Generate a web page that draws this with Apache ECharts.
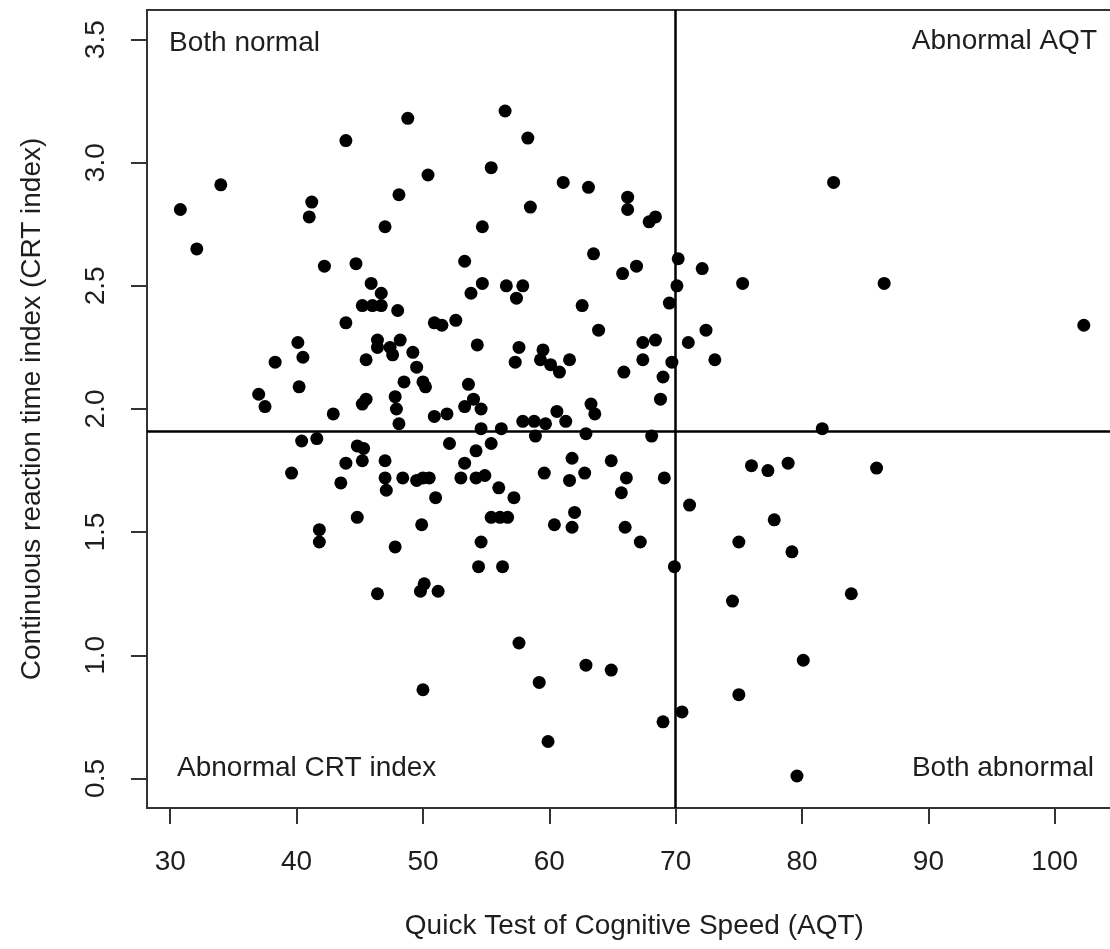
<!DOCTYPE html>
<html>
<head>
<meta charset="utf-8">
<script src="https://cdn.jsdelivr.net/npm/echarts@6/dist/echarts.min.js"></script>
<style>
html,body{margin:0;padding:0;background:#fff;}
#chart{width:1110px;height:949px;}
</style>
</head>
<body>
<div id="chart"></div>
<script>
// Quick Test of Cognitive Speed (AQT) values
const aqt = [
48.8,43.9,50.4,34.0,30.8,48.1,41.2,41.0,47.0,32.1,
42.2,44.7,45.9,46.7,45.2,46.0,46.7,48.0,43.9,50.9,
40.1,40.5,38.3,45.5,46.4,46.4,47.4,47.6,48.2,49.2,
49.5,48.5,50.0,50.2,40.2,37.0,37.5,45.2,45.5,47.8,
47.9,48.1,42.9,50.9,51.9,53.6,56.5,58.3,55.4,61.1,
63.1,66.2,66.2,58.5,67.9,68.4,54.7,63.5,53.3,70.2,
72.1,65.8,66.9,54.7,53.8,56.6,57.9,57.4,70.1,69.5,
62.6,51.5,52.6,63.9,72.4,54.3,57.6,57.3,59.5,59.3,
60.1,60.8,61.6,67.4,68.4,71.0,67.4,69.7,73.1,65.9,
69.0,68.8,54.0,53.3,54.6,63.3,63.6,57.9,58.8,59.7,
60.6,61.3,54.6,56.2,62.9,68.1,58.9,82.5,75.3,86.5,
102.3,81.6,76.0,77.3,78.9,85.9,71.1,77.8,75.0,79.2,
83.9,74.5,80.1,75.0,79.6,40.4,41.6,44.8,45.3,43.9,
45.2,39.6,43.5,47.0,47.0,47.1,48.4,49.5,50.0,50.5,
51.0,44.8,49.9,41.8,41.8,47.8,46.4,49.8,50.1,51.2,
50.0,52.1,54.2,55.4,53.3,53.0,54.2,54.9,56.0,57.2,
55.4,56.1,56.7,54.6,54.4,56.3,59.6,61.8,61.6,62.8,
64.9,66.1,65.7,69.1,62.0,61.8,60.4,66.0,67.2,69.9,
57.6,62.9,64.9,59.2,69.0,70.5,59.9
];
// Continuous reaction time index (CRT index) values
const crt = [
3.18,3.09,2.95,2.91,2.81,2.87,2.84,2.78,2.74,2.65,
2.58,2.59,2.51,2.47,2.42,2.42,2.42,2.40,2.35,2.35,
2.27,2.21,2.19,2.20,2.28,2.25,2.25,2.22,2.28,2.23,
2.17,2.11,2.11,2.09,2.09,2.06,2.01,2.02,2.04,2.05,
2.00,1.94,1.98,1.97,1.98,2.10,3.21,3.10,2.98,2.92,
2.90,2.86,2.81,2.82,2.76,2.78,2.74,2.63,2.60,2.61,
2.57,2.55,2.58,2.51,2.47,2.50,2.50,2.45,2.50,2.43,
2.42,2.34,2.36,2.32,2.32,2.26,2.25,2.19,2.24,2.20,
2.18,2.15,2.20,2.27,2.28,2.27,2.20,2.19,2.20,2.15,
2.13,2.04,2.04,2.01,2.00,2.02,1.98,1.95,1.95,1.94,
1.99,1.95,1.92,1.92,1.90,1.89,1.89,2.92,2.51,2.51,
2.34,1.92,1.77,1.75,1.78,1.76,1.61,1.55,1.46,1.42,
1.25,1.22,0.98,0.84,0.51,1.87,1.88,1.85,1.84,1.78,
1.79,1.74,1.70,1.79,1.72,1.67,1.72,1.71,1.72,1.72,
1.64,1.56,1.53,1.51,1.46,1.44,1.25,1.26,1.29,1.26,
0.86,1.86,1.83,1.86,1.78,1.72,1.72,1.73,1.68,1.64,
1.56,1.56,1.56,1.46,1.36,1.36,1.74,1.80,1.71,1.74,
1.79,1.72,1.66,1.72,1.58,1.52,1.53,1.52,1.46,1.36,
1.05,0.96,0.94,0.89,0.73,0.77,0.65
];
const xTicks = [30,40,50,60,70,80,90,100];
const yTicks = [0.5,1.0,1.5,2.0,2.5,3.0,3.5];
const aqtCutoff = 70;
const crtCutoff = 1.907;
const quadrantLabels = ['Both normal','Abnormal AQT','Abnormal CRT index','Both abnormal'];
const xTitle = 'Quick Test of Cognitive Speed (AQT)';
const yTitle = 'Continuous reaction time index (CRT index)';

const points = aqt.map((v,i)=>[v, crt[i]]);
const FONT = 'Liberation Sans, Arial, sans-serif';
const TXT = '#1e1e1e';

const chart = echarts.init(document.getElementById('chart'), null, {renderer:'canvas'});
chart.setOption({
  animation:false,
  backgroundColor:'#ffffff',
  grid:{left:147, right:-11.7, top:10, bottom:141, show:true, borderColor:'#333', borderWidth:2,
        backgroundColor:'transparent', containLabel:false, outerBoundsMode:'none'},
  xAxis:{
    type:'value', min:28.16, max:105.3,
    name:xTitle, nameLocation:'middle', nameGap:104,
    nameTextStyle:{fontFamily:FONT, fontSize:28, color:TXT},
    axisLine:{show:false},
    axisTick:{show:true, length:16, inside:false, customValues:xTicks, lineStyle:{color:'#333', width:2}},
    axisLabel:{show:true, customValues:xTicks, margin:40, fontFamily:FONT, fontSize:28, color:TXT},
    splitLine:{show:false}
  },
  yAxis:{
    type:'value', min:0.38, max:3.62,
    name:yTitle, nameLocation:'middle', nameGap:101, nameRotate:90,
    nameTextStyle:{fontFamily:FONT, fontSize:28, color:TXT},
    axisLine:{show:false},
    axisTick:{show:true, length:16, inside:false, customValues:yTicks, lineStyle:{color:'#333', width:2}},
    axisLabel:{show:true, customValues:yTicks, rotate:90, margin:37, fontFamily:FONT, fontSize:28, color:TXT,
      formatter:(v)=>Number(v).toFixed(1)},
    splitLine:{show:false}
  },
  series:[{
    type:'scatter',
    data:points,
    symbol:'circle',
    symbolSize:13,
    itemStyle:{color:'#000', opacity:1},
    clip:false,
    silent:true,
    markLine:{
      silent:true,
      symbol:['none','none'],
      label:{show:false},
      lineStyle:{color:'#000', width:2.5, type:'solid', opacity:1},
      emphasis:{disabled:true},
      data:[{xAxis:aqtCutoff},{yAxis:crtCutoff}]
    }
  }],
  graphic:[
    {type:'text', style:{x:169, y:43, text:quadrantLabels[0], font:'28px '+FONT, fill:TXT, textAlign:'left', textVerticalAlign:'middle', align:'left', verticalAlign:'middle'}},
    {type:'text', style:{x:1097, y:41, text:quadrantLabels[1], font:'28px '+FONT, fill:TXT, textAlign:'right', textVerticalAlign:'middle', align:'right', verticalAlign:'middle'}},
    {type:'text', style:{x:177, y:768, text:quadrantLabels[2], font:'28px '+FONT, fill:TXT, textAlign:'left', textVerticalAlign:'middle', align:'left', verticalAlign:'middle'}},
    {type:'text', style:{x:1094, y:768, text:quadrantLabels[3], font:'28px '+FONT, fill:TXT, textAlign:'right', textVerticalAlign:'middle', align:'right', verticalAlign:'middle'}}
  ]
});
</script>
</body>
</html>
